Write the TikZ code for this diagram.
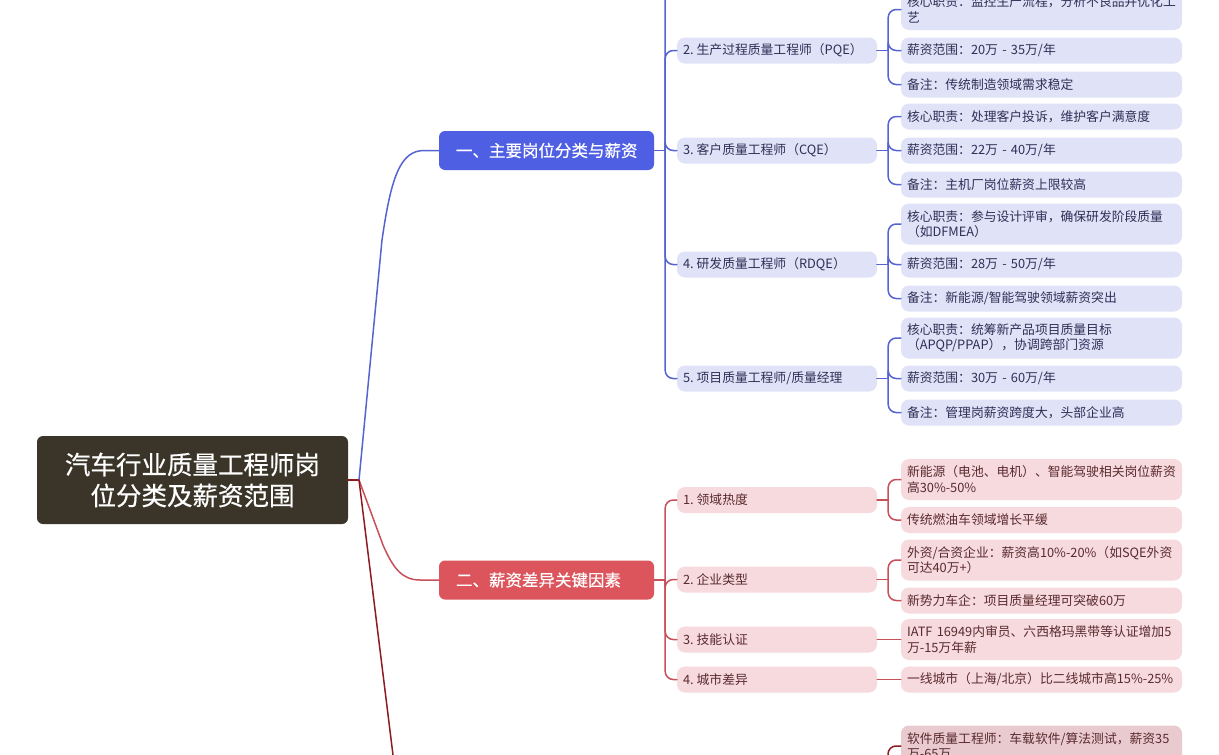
\documentclass[tikz,border=0pt]{standalone}
\usepackage{fontspec}
\setmainfont{Noto Sans CJK SC}
\newfontfamily\medfont{Noto Sans CJK SC}[FakeBold=0.5]
\usetikzlibrary{calc}
\definecolor{bluel}{HTML}{5564D0}
\definecolor{bluef}{HTML}{E0E2F8}
\definecolor{blueh}{HTML}{4F5FE3}
\definecolor{redl}{HTML}{C8505A}
\definecolor{redf}{HTML}{F6DADD}
\definecolor{redh}{HTML}{DC555C}
\definecolor{darkl}{HTML}{8E1B22}
\definecolor{darkf}{HTML}{E9CBCF}
\definecolor{rootf}{HTML}{3A3528}
\definecolor{bluet}{HTML}{2F2F55}
\definecolor{redt}{HTML}{5A2A2E}
\newcommand{\nsp}{\hspace{3pt}}
\tikzset{
  x=1pt,y=-1pt,
  rootbox/.style={fill=rootf,rounded corners=6,text=white,minimum width=311,minimum height=88,inner sep=0,align=center,font=\medfont\fontsize{25.5}{31}\selectfont},
  headbox/.style={rounded corners=6,text=white,minimum width=215,minimum height=39,inner xsep=17,inner ysep=0,text width=181,align=left,font=\medfont\fontsize{16.5}{20}\selectfont},
  midbox/.style={rounded corners=8,minimum width=200,minimum height=26,inner xsep=6,inner ysep=0,text width=188,align=left,font=\fontsize{12.8}{15.5}\selectfont},
  leafbox/.style={rounded corners=8,minimum width=281,minimum height=26,inner xsep=6,inner ysep=0,text width=269,align=left,font=\fontsize{12.8}{15.5}\selectfont},
  tallbox/.style={leafbox,minimum height=41},
  bluestyle/.style={fill=bluef,text=bluet},
  redstyle/.style={fill=redf,text=redt},
  darkstyle/.style={fill=darkf,text=redt},
  link/.style={line width=1.5pt,line cap=round},
}
\newcommand{\elbow}[4]{%
  \draw[link,draw=#1] (#2.east) -- ++(#4,0);
  \draw[link,draw=#1,rounded corners=8] ($(#2.east)+(#4,0)$) |- (#3.west);
}
\begin{document}
\begin{tikzpicture}
\useasboundingbox (0,0) rectangle (1219,755);
\clip (0,0) rectangle (1219,755);
\fill[white] (0,0) rectangle (1219,755);

\node[rootbox] (root) at (192.5,480) {汽车行业质量工程师岗\\位分类及薪资范围};
\node[headbox,fill=blueh] (h1) at (546.5,150.5) {\mbox{一、主要岗位分类与薪资}};
\node[headbox,fill=redh] (h2) at (546.5,580) {\mbox{二、薪资差异关键因素}};

\coordinate (hub) at (359,480);
\coordinate (h3end) at (393,755);
\coordinate (m0) at (677,-60);
\coordinate (d0) at (888,790);

% blue mids
\node[midbox,bluestyle] (m2) at (777,50.5) {\mbox{2.\nsp 生产过程质量工程师（PQE）}};
\node[midbox,bluestyle] (m3) at (777,150.5) {\mbox{3.\nsp 客户质量工程师（CQE）}};
\node[midbox,bluestyle] (m4) at (777,264.5) {\mbox{4.\nsp 研发质量工程师（RDQE）}};
\node[midbox,bluestyle] (m5) at (777,378.5) {\mbox{5.\nsp 项目质量工程师/质量经理}};

% blue leaves
\node[tallbox,bluestyle] (a1) at (1041.5,9.5) {\mbox{核心职责：监控生产流程，分析不良品并优化工}\\艺};
\node[leafbox,bluestyle] (a2) at (1041.5,50.5) {\mbox{薪资范围：20万 - 35万/年}};
\node[leafbox,bluestyle] (a3) at (1041.5,84.5) {\mbox{备注：传统制造领域需求稳定}};
\node[leafbox,bluestyle] (b1) at (1041.5,116.5) {\mbox{核心职责：处理客户投诉，维护客户满意度}};
\node[leafbox,bluestyle] (b2) at (1041.5,150.5) {\mbox{薪资范围：22万 - 40万/年}};
\node[leafbox,bluestyle] (b3) at (1041.5,184.5) {\mbox{备注：主机厂岗位薪资上限较高}};
\node[tallbox,bluestyle] (c1) at (1041.5,224) {\mbox{核心职责：参与设计评审，确保研发阶段质量}\\（如DFMEA）};
\node[leafbox,bluestyle] (c2) at (1041.5,264.5) {\mbox{薪资范围：28万 - 50万/年}};
\node[leafbox,bluestyle] (c3) at (1041.5,298.5) {\mbox{备注：新能源/智能驾驶领域薪资突出}};
\node[tallbox,bluestyle] (d1) at (1041.5,338) {\mbox{核心职责：统筹新产品项目质量目标}\\\mbox{（APQP/PPAP），协调跨部门资源}};
\node[leafbox,bluestyle] (d2) at (1041.5,378.5) {\mbox{薪资范围：30万 - 60万/年}};
\node[leafbox,bluestyle] (d3) at (1041.5,412.5) {\mbox{备注：管理岗薪资跨度大，头部企业高}};

% red mids
\node[midbox,redstyle] (r1) at (777,500) {\mbox{1.\nsp 领域热度}};
\node[midbox,redstyle] (r2) at (777,579.5) {\mbox{2.\nsp 企业类型}};
\node[midbox,redstyle] (r3) at (777,639.5) {\mbox{3.\nsp 技能认证}};
\node[midbox,redstyle] (r4) at (777,679.5) {\mbox{4.\nsp 城市差异}};

% red leaves
\node[tallbox,redstyle] (e1) at (1041.5,479.5) {\mbox{新能源（电池、电机）、智能驾驶相关岗位薪资}\\\mbox{高30\%-50\%}};
\node[leafbox,redstyle] (e2) at (1041.5,520) {\mbox{传统燃油车领域增长平缓}};
\node[tallbox,redstyle] (f1) at (1041.5,560) {\mbox{外资/合资企业：薪资高10\%-20\%（如SQE外资}\\\mbox{可达40万+）}};
\node[leafbox,redstyle] (f2) at (1041.5,600.5) {\mbox{新势力车企：项目质量经理可突破60万}};
\node[tallbox,redstyle] (g1) at (1041.5,639.5) {\mbox{IATF 16949内审员、六西格玛黑带等认证增加5}\\\mbox{万-15万年薪}};
\node[leafbox,redstyle] (h1leaf) at (1041.5,679.5) {\mbox{一线城市（上海/北京）比二线城市高15\%-25\%}};

% dark leaf
\node[tallbox,darkstyle] (s1) at (1041.5,746) {\mbox{软件质量工程师：车载软件/算法测试，薪资35}\\\mbox{万-65万}};

% root links
\draw[link,draw=darkl] (root.east) -- (hub);
\draw[link,draw=bluel] (hub) -- (382,240) .. controls (391,178) and (400,150.5) .. (424,150.5) -- (h1.west);
\draw[link,draw=redl] (hub) -- (383,545) .. controls (393,568) and (402,580) .. (420,580) -- (h2.west);
\draw[link,draw=darkl] (hub) -- (h3end);

% blue links
\elbow{bluel}{h1}{m0}{11}
\elbow{bluel}{h1}{m2}{11}
\elbow{bluel}{h1}{m3}{11}
\elbow{bluel}{h1}{m4}{11}
\elbow{bluel}{h1}{m5}{11}
\elbow{bluel}{m2}{a1}{11}
\elbow{bluel}{m2}{a2}{11}
\elbow{bluel}{m2}{a3}{11}
\elbow{bluel}{m3}{b1}{11}
\elbow{bluel}{m3}{b2}{11}
\elbow{bluel}{m3}{b3}{11}
\elbow{bluel}{m4}{c1}{11}
\elbow{bluel}{m4}{c2}{11}
\elbow{bluel}{m4}{c3}{11}
\elbow{bluel}{m5}{d1}{11}
\elbow{bluel}{m5}{d2}{11}
\elbow{bluel}{m5}{d3}{11}

% red links
\elbow{redl}{h2}{r1}{11}
\elbow{redl}{h2}{r2}{11}
\elbow{redl}{h2}{r3}{11}
\elbow{redl}{h2}{r4}{11}
\elbow{redl}{r1}{e1}{11}
\elbow{redl}{r1}{e2}{11}
\elbow{redl}{r2}{f1}{11}
\elbow{redl}{r2}{f2}{11}
\draw[link,draw=redl] (r3.east) -- (g1.west);
\draw[link,draw=redl] (r4.east) -- (h1leaf.west);

% dark link
\draw[link,draw=darkl,rounded corners=8] (d0) |- (s1.west);
\end{tikzpicture}
\end{document}
